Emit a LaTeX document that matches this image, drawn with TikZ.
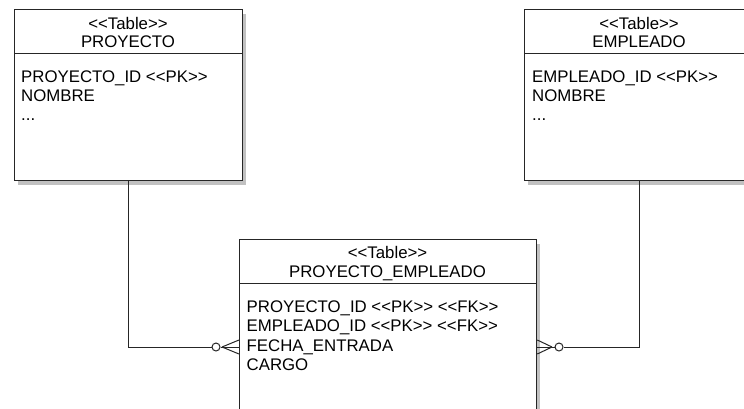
\documentclass[tikz,border=0pt]{standalone}
\usepackage{fontspec}
\setmainfont{Liberation Sans}[Ligatures=TeXOff]
\usetikzlibrary{shadows}
\begin{document}
\begin{tikzpicture}[x=1pt,y=-1pt,
  tbl/.style={draw=black!85, line width=1.3pt, fill=white, rectangle, inner sep=0pt,
    anchor=north west,
    drop shadow={shadow xshift=3pt, shadow yshift=-4pt, opacity=0.35, fill=black!70}},
  txt/.style={font=\fontsize{16.8}{19.5}\selectfont, inner sep=0pt, text=black},
  ttl/.style={txt, anchor=base},
  attr/.style={txt, anchor=base west},
  div/.style={draw=black!85, line width=1pt},
  conn/.style={draw=black!85, line width=1pt},
  opt/.style={circle, draw=black!85, line width=1pt, fill=white, minimum size=8pt, inner sep=0pt}
]
\useasboundingbox (0,0) rectangle (744,408);
\clip (0,0) rectangle (744,408);

% PROYECTO
\node[tbl, minimum width=228pt, minimum height=171pt] (p) at (14,9) {};
\draw[div] (14,53) -- (242,53);
\node[ttl] (pt1) at (128,29) {<<Table>>};
\node[ttl] (pt2) at (128,47.5) {PROYECTO};
\node[attr] (pa1) at (21,82) {PROYECTO\_ID <<PK>>};
\node[attr] (pa2) at (21,101) {NOMBRE};
\node[attr] (pa3) at (21,120) {...};

% EMPLEADO
\node[tbl, minimum width=230pt, minimum height=171pt] (e) at (524,9) {};
\draw[div] (524,53) -- (760,53);
\node[ttl] (et1) at (639,29) {<<Table>>};
\node[ttl] (et2) at (639,47.5) {EMPLEADO};
\node[attr] (ea1) at (532,82) {EMPLEADO\_ID <<PK>>};
\node[attr] (ea2) at (532,101) {NOMBRE};
\node[attr] (ea3) at (532,120) {...};

% PROYECTO_EMPLEADO
\node[tbl, minimum width=297pt, minimum height=200pt] (pe) at (239,239) {};
\draw[div] (239,283) -- (536,283);
\node[ttl] (mt1) at (387.5,258) {<<Table>>};
\node[ttl] (mt2) at (387.5,277) {PROYECTO\_EMPLEADO};
\node[attr] (ma1) at (246.5,312.5) {PROYECTO\_ID <<PK>> <<FK>>};
\node[attr] (ma2) at (246.5,331.5) {EMPLEADO\_ID <<PK>> <<FK>>};
\node[attr] (ma3) at (246.5,351) {FECHA\_ENTRADA};
\node[attr] (ma4) at (246.5,370.5) {CARGO};

% connectors
\node[opt] (c1) at (216,347) {};
\node[opt] (c2) at (559,347) {};
\coordinate (f1) at (222,347);
\coordinate (f2) at (552,347);
\draw[conn] (p.south) |- (c1.west);
\draw[conn] (e.south) |- (c2.east);
\draw[conn] (c1.east) -- (pe.west |- c1);
\draw[conn] (f1) -- ([yshift=7pt]pe.west |- c1);
\draw[conn] (f1) -- ([yshift=-7pt]pe.west |- c1);
\draw[conn] (c2.west) -- (pe.east |- c2);
\draw[conn] (f2) -- ([yshift=7pt]pe.east |- c2);
\draw[conn] (f2) -- ([yshift=-7pt]pe.east |- c2);
\end{tikzpicture}
\end{document}
